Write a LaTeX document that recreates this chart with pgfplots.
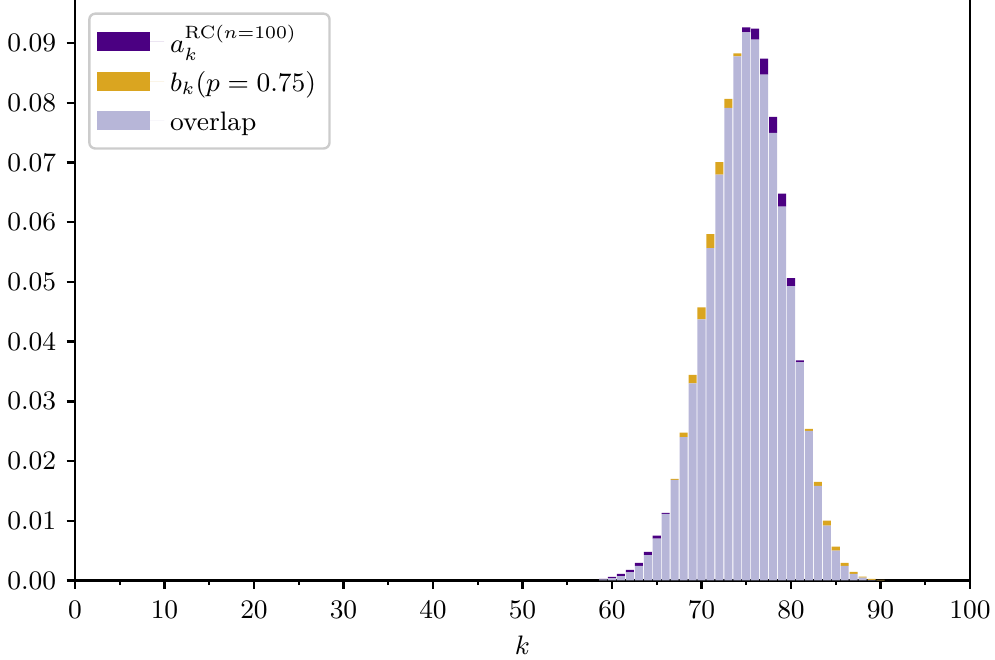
\documentclass[border=0pt]{standalone}
\usepackage{pgfplots}
\usepackage{pgfplotstable}
\pgfplotsset{compat=1.18}

\definecolor{acol}{RGB}{75,0,130}
\definecolor{bcol}{RGB}{218,165,32}
\definecolor{ocol}{RGB}{183,182,216}

% k, a_k (RC, n=100), b_k (binomial p=0.75), overlap = min(a_k, b_k)
\pgfplotstableread{
k  a        b        o
59 0.00025  0.00018  0.00018
60 0.00060  0.00036  0.00036
61 0.00110  0.00071  0.00071
62 0.00176  0.00135  0.00135
63 0.00293  0.00244  0.00244
64 0.00477  0.00423  0.00423
65 0.00750  0.00702  0.00702
66 0.01130  0.01117  0.01117
67 0.01683  0.01700  0.01683
68 0.02400  0.02475  0.02400
69 0.03300  0.03443  0.03300
70 0.04374  0.04575  0.04374
71 0.05565  0.05799  0.05565
72 0.06795  0.07007  0.06795
73 0.07912  0.08063  0.07912
74 0.08776  0.08826  0.08776
75 0.09263  0.09179  0.09179
76 0.09242  0.09058  0.09058
77 0.08738  0.08470  0.08470
78 0.07761  0.07493  0.07493
79 0.06478  0.06260  0.06260
80 0.05064  0.04930  0.04930
81 0.03686  0.03652  0.03652
82 0.02504  0.02538  0.02504
83 0.01585  0.01652  0.01585
84 0.00919  0.01003  0.00919
85 0.00499  0.00566  0.00499
86 0.00246  0.00296  0.00246
87 0.00109  0.00143  0.00109
88 0.00046  0.00063  0.00046
89 0.00010  0.00026  0.00010
90 0.00003  0.00009  0.00003
}\dist

\begin{document}
\begin{tikzpicture}
\begin{axis}[
  scale only axis,
  width=301.35pt, height=195.95pt,
  font=\fontsize{9}{10.8}\selectfont,
  xmin=0, xmax=100, ymin=0, ymax=0.09745,
  xtick={0,10,...,100},
  minor xtick={5,15,...,95},
  ytick={0,0.01,0.02,0.03,0.04,0.05,0.06,0.07,0.08,0.09},
  scaled y ticks=false,
  yticklabel style={/pgf/number format/fixed, /pgf/number format/fixed zerofill, /pgf/number format/precision=2},
  xticklabel style={yshift=-0.8pt},
  tick align=outside,
  xtick pos=bottom, ytick pos=left,
  major tick length=2.8pt, minor tick length=1.6pt,
  every tick/.style={black, line width=0.8pt},
  axis line style={line width=1pt},
  xlabel={$k$},
  xlabel style={yshift=1.2pt},
  ybar stacked, bar width=0.9,
  legend cell align=left,
  legend image code/.code={%
    \fill[#1, sharp corners, fill opacity=1] (0pt,-3.2pt) rectangle (18pt,3.2pt);
    \path (0pt,0pt) -- (22.7pt,0pt);},
  legend style={at={(0.0147,0.976)}, anchor=north west, draw=black!20, line width=0.8pt,
    rounded corners=2pt, fill=white, fill opacity=0.8, text opacity=1,
    row sep=0.2pt, inner xsep=2.5pt, inner ysep=3pt,
    nodes={text height=8pt, text depth=1pt}},
  legend entries={$a_k^{\mathrm{RC}(n=100)}$, $b_k(p=0.75)$, overlap},
]
\addlegendimage{fill=acol, draw=none}
\addlegendimage{fill=bcol, draw=none}
\addlegendimage{fill=ocol, draw=none}
% common part of both distributions
\addplot[fill=ocol, draw=none] table[x=k, y=o]{\dist};
% excess of a_k over the overlap
\addplot[fill=acol, draw=none] table[x=k, y expr=\thisrow{a}-\thisrow{o}]{\dist};
% excess of b_k over the overlap
\addplot[fill=bcol, draw=none] table[x=k, y expr=\thisrow{b}-\thisrow{o}]{\dist};
\end{axis}
\pgfresetboundingbox
\path[use as bounding box] ([xshift=-25.25pt,yshift=-26.77pt]current axis.south west) rectangle ([xshift=8.42pt,yshift=-0.5pt]current axis.north east);
\end{tikzpicture}
\end{document}
